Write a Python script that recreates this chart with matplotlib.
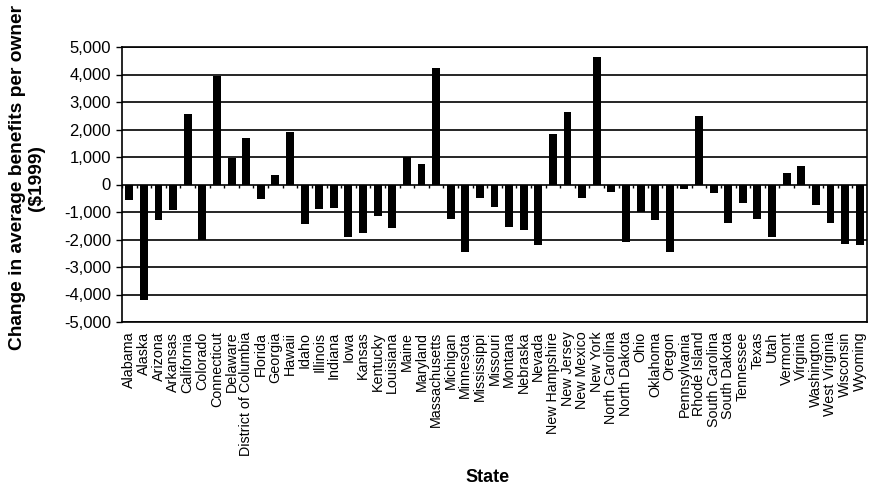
import numpy as np
import matplotlib
matplotlib.use("Agg")
import matplotlib.pyplot as plt
from matplotlib.ticker import FuncFormatter

states = [
    "Alabama", "Alaska", "Arizona", "Arkansas", "California", "Colorado",
    "Connecticut", "Delaware", "District of Columbia", "Florida", "Georgia",
    "Hawaii", "Idaho", "Illinois", "Indiana", "Iowa", "Kansas", "Kentucky",
    "Louisiana", "Maine", "Maryland", "Massachusetts", "Michigan", "Minnesota",
    "Mississippi", "Missouri", "Montana", "Nebraska", "Nevada", "New Hampshire",
    "New Jersey", "New Mexico", "New York", "North Carolina", "North Dakota",
    "Ohio", "Oklahoma", "Oregon", "Pennsylvania", "Rhode Island",
    "South Carolina", "South Dakota", "Tennessee", "Texas", "Utah", "Vermont",
    "Virginia", "Washington", "West Virginia", "Wisconsin", "Wyoming",
]

change_per_owner = [
    -550, -4200, -1300, -920, 2550, -2000,
    3950, 950, 1700, -520, 330,
    1900, -1450, -900, -850, -1920, -1750, -1130,
    -1580, 1000, 750, 4250, -1270, -2470,
    -480, -800, -1540, -1640, -2200, 1850,
    2650, -480, 4650, -280, -2100,
    -1000, -1300, -2470, -150, 2500,
    -300, -1400, -670, -1250, -1900, 420,
    660, -740, -1400, -2150, -2200,
]

y_ticks = list(range(-5000, 5001, 1000))

plt.rcParams["font.family"] = ["Liberation Sans", "DejaVu Sans"]

fig = plt.figure(figsize=(8.75, 4.92), dpi=100)
ax = fig.add_axes([122 / 875, 1 - 322 / 492, 745 / 875, 275 / 492])

x = np.arange(len(states))
ax.bar(x, change_per_owner, width=0.54, color="black", zorder=3)

# horizontal gridlines
for t in y_ticks:
    ax.axhline(t, color="black", linewidth=1.2, zorder=1)

# category tick marks on the zero line, between categories
ax.vlines(np.arange(len(states) + 1) - 0.5, -110, 0, color="black",
          linewidth=1.0, zorder=2)

ax.set_xlim(-0.5, len(states) - 0.5)
ax.set_ylim(-5000, 5000)
ax.set_yticks(y_ticks)
ax.yaxis.set_major_formatter(FuncFormatter(lambda v, p: f"{int(v):,}"))
ax.tick_params(axis="y", labelsize=12, length=4, width=1, pad=4, direction="out")

ax.set_xticks(x)
ax.set_xticklabels(states, rotation=90, fontsize=10.3, va="top")
ax.tick_params(axis="x", length=0, pad=7)

for side in ["left", "right", "bottom", "top"]:
    ax.spines[side].set_color("black")
    ax.spines[side].set_linewidth(1.2)

fig.text(27 / 875, 1 - 178 / 492,
         "Change in average benefits per owner\n($1999)",
         rotation=90, ha="center", va="center", multialignment="center",
         fontsize=13.8, fontweight="bold", linespacing=1.1)

fig.text(488 / 875, 1 - 478 / 492, "State", ha="center", va="center",
         fontsize=13, fontweight="bold")

fig.savefig("out.png", dpi=100, facecolor="white")
